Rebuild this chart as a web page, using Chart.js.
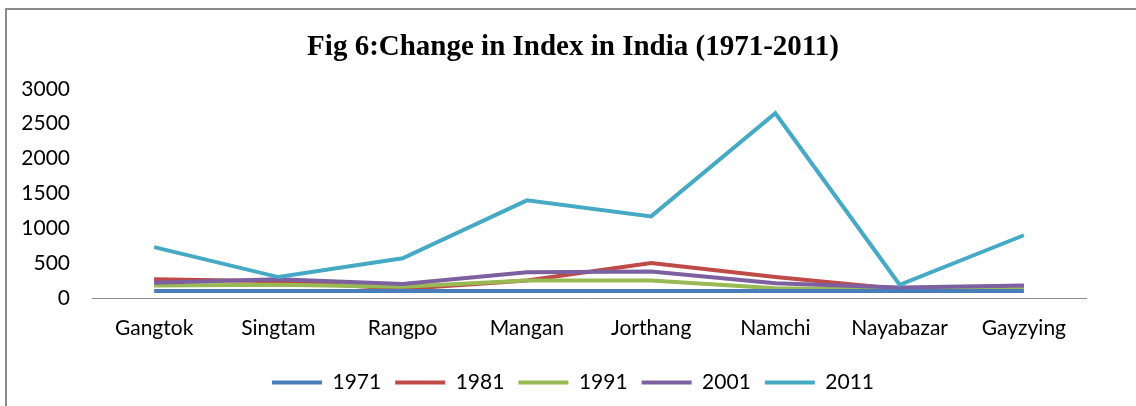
<!DOCTYPE html>
<html>
<head>
<meta charset="utf-8">
<script src="https://cdn.jsdelivr.net/npm/chart.js@4"></script>
<style>
    html, body { margin: 0; padding: 0; background: #fff; }
    #wrap { position: absolute; left: 0; top: 0; width: 1136px; height: 406px; }
    #frame { position: absolute; left: 5px; top: 8px; width: 1140px; height: 410px;
             border-left: 2px solid #8c8c8c; border-top: 2px solid #8c8c8c; }
</style>
</head>
<body>
<div id="wrap">
    <div id="frame"></div>
    <canvas id="indexChart"></canvas>
</div>
<script>
const towns = ['Gangtok', 'Singtam', 'Rangpo', 'Mangan', 'Jorthang', 'Namchi', 'Nayabazar', 'Gayzying'];
const yearLabels = ['1971', '1981', '1991', '2001', '2011'];

const idx1971 = [100, 100, 100, 100, 100, 100, 100, 100];
const idx1981 = [270, 240, 130, 250, 500, 300, 130, 170];
const idx1991 = [180, 190, 160, 250, 250, 140, 120, 140];
const idx2001 = [220, 270, 200, 370, 380, 210, 150, 180];
const idx2011 = [730, 300, 570, 1400, 1170, 2650, 190, 900];

const yTicks = [0, 500, 1000, 1500, 2000, 2500, 3000];

const colors = ['#4a7ebb', '#be4b48', '#98b954', '#7d60a0', '#46aac5'];
const series = [idx1971, idx1981, idx1991, idx2001, idx2011];

const labelFont = { family: 'Lato', size: 21 };

new Chart(document.getElementById('indexChart').getContext('2d'), {
    type: 'line',
    data: {
        labels: towns,
        datasets: series.map((vals, i) => ({
            label: yearLabels[i],
            data: vals,
            borderColor: colors[i],
            backgroundColor: colors[i],
            borderWidth: 4,
            pointRadius: 0,
            tension: 0,
            order: i === 0 ? 0 : 5 - i
        }))
    },
    options: {
        responsive: true,
        maintainAspectRatio: false,
        animation: false,
        layout: { padding: { left: 10, right: 0, top: 0, bottom: 3 } },
        plugins: {
            title: {
                display: true,
                text: 'Fig 6:Change in Index in India (1971-2011)',
                color: '#000',
                font: { family: 'Liberation Serif', size: 29, weight: 'bold' },
                padding: { top: 30, bottom: 24 }
            },
            legend: {
                position: 'bottom',
                labels: {
                    color: '#000',
                    font: labelFont,
                    boxWidth: 50,
                    boxHeight: 4,
                    padding: 14,
                    generateLabels: chart => chart.data.datasets.map((ds, i) => ({
                        text: ds.label,
                        fillStyle: ds.borderColor,
                        strokeStyle: ds.borderColor,
                        lineWidth: 0,
                        fontColor: '#000',
                        datasetIndex: i
                    }))
                }
            },
            tooltip: { enabled: false }
        },
        scales: {
            x: {
                offset: true,
                afterFit: scale => { scale.height = 60; },
                grid: { display: false, drawTicks: false },
                border: { display: true, color: '#8c8c8c', width: 1 },
                ticks: { color: '#000', font: labelFont, padding: 18, maxRotation: 0 }
            },
            y: {
                min: 0,
                max: 3000,
                afterBuildTicks: scale => { scale.ticks = yTicks.map(v => ({ value: v })); },
                afterFit: scale => { scale.width = 82; },
                grid: { display: false, drawTicks: false },
                border: { display: false },
                ticks: { color: '#000', font: labelFont, padding: 22, callback: v => String(v) }
            },
            // empty right-hand box that keeps the plot clear of the right edge
            yRight: {
                position: 'right',
                afterFit: scale => { scale.width = 50; },
                grid: { display: false, drawTicks: false },
                border: { display: false },
                ticks: { display: false }
            }
        }
    }
});
</script>
</body>
</html>
